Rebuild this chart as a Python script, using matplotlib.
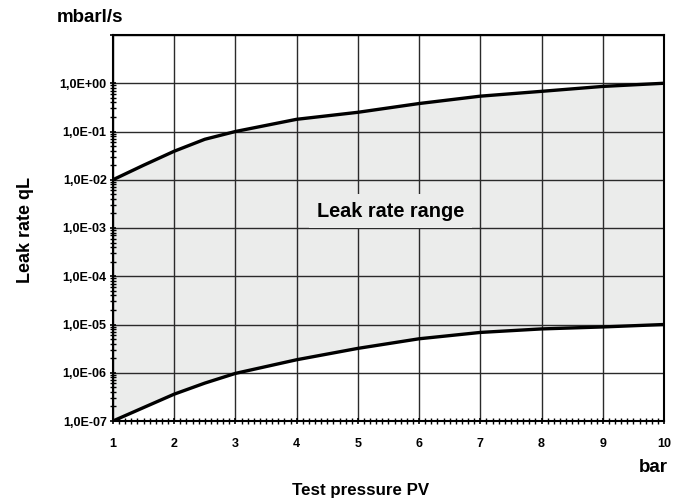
import math
import matplotlib
matplotlib.use("Agg")
import matplotlib.pyplot as plt
from matplotlib.ticker import FixedLocator, MultipleLocator, FuncFormatter, NullFormatter

plt.rcParams['font.family'] = ['Liberation Sans', 'DejaVu Sans']

pressure = [1, 1.5, 2, 2.5, 3, 4, 5, 6, 7, 8, 9, 10]
upper = [1e-2, 2.0e-2, 3.9e-2, 6.9e-2, 1.0e-1, 1.79e-1, 2.5e-1, 3.8e-1, 5.4e-1, 6.8e-1, 8.6e-1, 1.0]
lower = [1e-7, 1.9e-7, 3.6e-7, 6.1e-7, 9.7e-7, 1.86e-6, 3.2e-6, 5.06e-6, 6.85e-6, 8.1e-6, 8.9e-6, 1.0e-5]
ytick_vals = [1e-7, 1e-6, 1e-5, 1e-4, 1e-3, 1e-2, 1e-1, 1e0]
xtick_vals = [1, 2, 3, 4, 5, 6, 7, 8, 9, 10]

fig = plt.figure(figsize=(6.83, 5.0), dpi=100)
ax = fig.add_axes([0.1654, 0.158, 0.9722 - 0.1654, 0.93 - 0.158])
ax.set_yscale('log')
ax.set_xlim(1, 10)
ax.set_ylim(1e-7, 1e1)

ax.fill_between(pressure, lower, upper, color='#ebeceb', zorder=1, lw=0)
ax.plot(pressure, upper, color='black', lw=2.4, zorder=4, solid_capstyle='butt')
ax.plot(pressure, lower, color='black', lw=2.4, zorder=4, solid_capstyle='butt')

ax.yaxis.set_major_locator(FixedLocator(ytick_vals + [10.0]))
minor_y = [m * d for d in ytick_vals[:-1] for m in range(2, 10)]
ax.yaxis.set_minor_locator(FixedLocator(minor_y))
ax.yaxis.set_minor_formatter(NullFormatter())

def yfmt(v, pos):
    if v > 1.5:
        return ''
    e = int(round(math.log10(v)))
    sign = '+' if e >= 0 else '-'
    return f"1,0E{sign}{abs(e):02d}"
ax.yaxis.set_major_formatter(FuncFormatter(yfmt))

ax.xaxis.set_major_locator(FixedLocator(xtick_vals))
ax.xaxis.set_minor_locator(MultipleLocator(0.1))

ax.grid(True, which='major', color='#2a2a2a', lw=1.0, zorder=2)
ax.set_axisbelow(False)
for sp in ax.spines.values():
    sp.set_linewidth(1.5)
    sp.set_zorder(5)

ax.tick_params(axis='both', which='major', direction='inout', length=5, width=1.2, labelsize=9)
ax.tick_params(axis='both', which='minor', direction='inout', length=4, width=1.0)
ax.tick_params(axis='y', which='major', pad=2)
ax.tick_params(axis='x', which='major', pad=10)
for lab in ax.get_xticklabels() + ax.get_yticklabels():
    lab.set_fontweight('bold')

fig.text(57 / 683, 1 - 17 / 500, 'mbarl/s', fontsize=13.5, fontweight='bold', ha='left', va='center')
fig.text(668 / 683, 1 - 467 / 500, 'bar', fontsize=13.5, fontweight='bold', ha='right', va='center')
fig.text(361 / 683, 1 - 491 / 500, 'Test pressure PV', fontsize=12.2, fontweight='bold', ha='center', va='center')
fig.text(26 / 683, 1 - 230 / 500, 'Leak rate qL', fontsize=13, fontweight='bold', ha='center', va='center', rotation=90)
ax.text(5.53, 2.25e-3, 'Leak rate range', fontsize=14.3, fontweight='bold', ha='center', va='center', zorder=6,
        bbox=dict(boxstyle='square,pad=0.4', facecolor='#ebeceb', edgecolor='none'))

fig.savefig('out.png', dpi=100)
